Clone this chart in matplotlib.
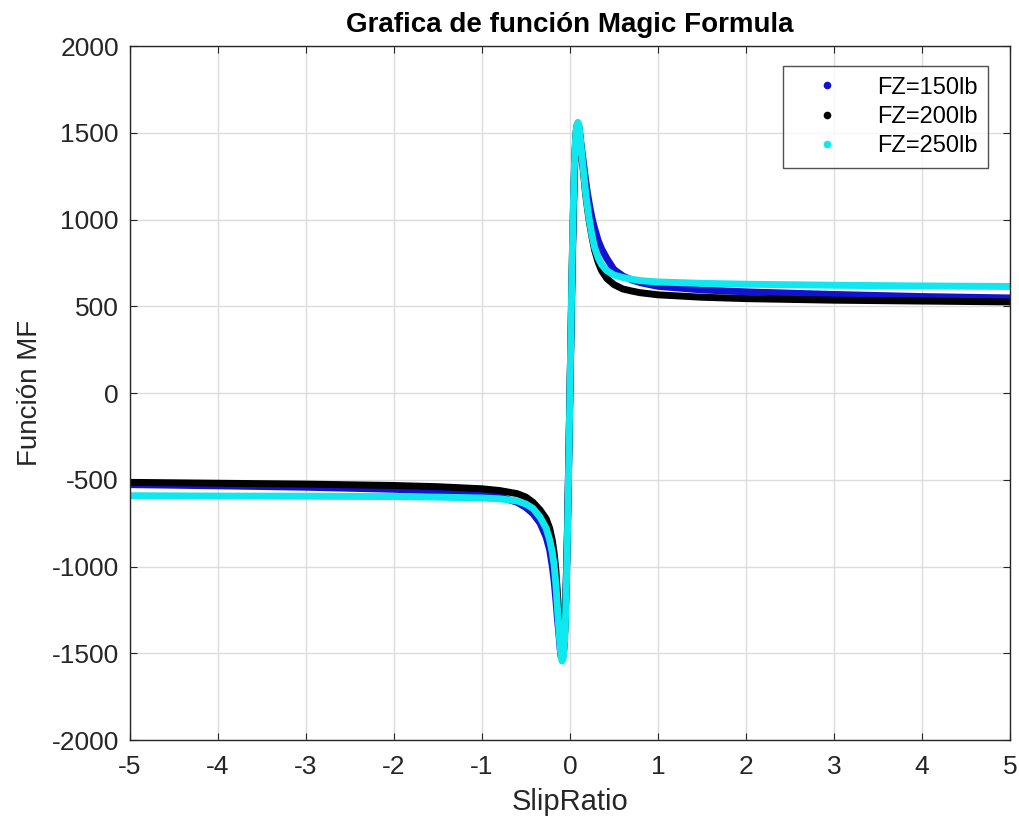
import matplotlib
matplotlib.use("Agg")
import matplotlib.pyplot as plt
from matplotlib.lines import Line2D
import numpy as np

plt.rcParams['font.family'] = ['Liberation Sans', 'DejaVu Sans']
plt.rcParams['axes.unicode_minus'] = False

# values (shared slip ratio grid)
slip = [-5, -4, -3, -2, -1.5, -1, -0.8, -0.6, -0.5, -0.42, -0.34, -0.27, -0.23, -0.2, -0.18,
        -0.16, -0.14, -0.12, -0.11, -0.1, -0.09, -0.08, -0.07, -0.06, -0.05, -0.04, -0.03,
        -0.02, -0.01, 0,
        0.01, 0.02, 0.03, 0.04, 0.05, 0.06, 0.07, 0.08, 0.09, 0.1,
        0.11, 0.12, 0.14, 0.16, 0.18, 0.2, 0.22, 0.25, 0.28, 0.32, 0.36, 0.42,
        0.5, 0.6, 0.7, 0.8, 1.0, 1.5, 2, 3, 4, 5]

mf_150 = [-528, -535, -543, -555, -565, -585, -598, -630, -660, -695, -749, -830, -905, -1000, -1080,
          -1190, -1310, -1420, -1480, -1520, -1530, -1515, -1470, -1380, -1230, -1040, -820,
          -560, -280, 0,
          280, 560, 820, 1040, 1240, 1390, 1480, 1525, 1540, 1535,
          1500, 1460, 1380, 1300, 1220, 1150, 1090, 1010, 950, 880, 830, 775,
          712, 675, 652, 636, 615, 594, 583, 568, 556, 548]

mf_200 = [-515, -520, -525, -533, -540, -552, -562, -580, -600, -630, -674, -725, -780, -850, -920,
          -1020, -1170, -1340, -1430, -1500, -1530, -1520, -1480, -1390, -1250, -1060, -850,
          -580, -290, 0,
          290, 580, 850, 1070, 1270, 1410, 1500, 1540, 1550, 1540,
          1500, 1450, 1340, 1240, 1140, 1060, 990, 900, 825, 755, 705, 660,
          625, 600, 588, 578, 566, 552, 544, 535, 530, 525]

mf_250 = [-592, -594, -595, -597, -600, -605, -610, -622, -640, -665, -715, -780, -847, -920, -990,
          -1100, -1250, -1400, -1470, -1520, -1545, -1535, -1500, -1420, -1290, -1100, -870,
          -600, -300, 0,
          300, 600, 870, 1100, 1290, 1430, 1510, 1548, 1560, 1550,
          1510, 1460, 1350, 1250, 1150, 1070, 1000, 910, 840, 780, 740, 705,
          680, 666, 656, 648, 640, 632, 627, 621, 617, 614]

labels = ['FZ=150lb', 'FZ=200lb', 'FZ=250lb']
colors = ['#1212d0', '#000000', '#10e8f0']

fig = plt.figure(figsize=(10.2, 8.26), dpi=100)
ax = fig.add_axes([0.1275, 0.1041, 0.8625, 0.8402])

for ys, c in zip([mf_150, mf_200, mf_250], colors):
    ax.plot(slip, ys, color=c, lw=5, solid_capstyle='round', solid_joinstyle='round')

ax.set_xlim(-5, 5)
ax.set_ylim(-2000, 2000)
ax.set_xticks(np.arange(-5, 6, 1))
ax.set_yticks(np.arange(-2000, 2001, 500))
ax.grid(True, color='#dcdcdc', lw=1)
ax.set_axisbelow(True)
ax.tick_params(direction='in', top=True, right=True, labelsize=19,
               colors='#262626', length=5)
ax.tick_params(axis='x', pad=11)
ax.tick_params(axis='y', pad=8)
for s in ax.spines.values():
    s.set_color('#262626')
    s.set_linewidth(1)

ax.set_xlabel('SlipRatio', fontsize=21, color='#262626', labelpad=6)
ax.set_ylabel('Función MF', fontsize=20, color='#262626', labelpad=6)
ax.set_title('Grafica de función Magic Formula', fontsize=20, fontweight='bold', pad=10)

handles = [Line2D([], [], ls='none', marker='.', color=c, markersize=9) for c in colors]
leg = ax.legend(handles, labels, loc='upper right', fontsize=17, frameon=True,
                fancybox=False, edgecolor='#262626', borderpad=0.45, handletextpad=0.7,
                handlelength=2.8, labelspacing=0.3, borderaxespad=0,
                bbox_to_anchor=(0.975, 0.971))
leg.get_frame().set_linewidth(1)

fig.savefig('out.png', dpi=100)
